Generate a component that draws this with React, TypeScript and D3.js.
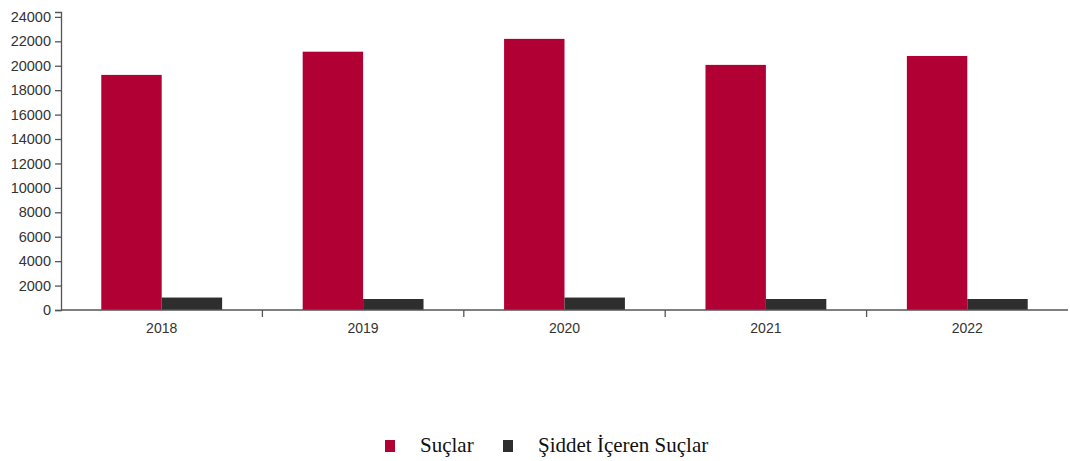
import React, { useRef, useEffect } from 'react'
import * as d3 from 'd3'

// Yearly totals
const years = ['2018', '2019', '2020', '2021', '2022']
const crimes = [19250, 21150, 22200, 20070, 20800]
const violentCrimes = [1020, 900, 1020, 900, 900]
const seriesNames = ['Suçlar', 'Şiddet İçeren Suçlar']
const seriesColors = ['#b00034', '#2e2e2e']
const yTicks = [0, 2000, 4000, 6000, 8000, 10000, 12000, 14000, 16000, 18000, 20000, 22000, 24000]

const App: React.FC = () => {
  const svgRef = useRef<SVGSVGElement | null>(null)

  useEffect(() => {
    const svg = d3.select(svgRef.current)
    svg.selectAll('*').remove()

    const width = 1070
    const height = 461
    const margin = { top: 12, right: 2, bottom: 151, left: 61 }
    svg.attr('width', width).attr('height', height)

    const values = [crimes, violentCrimes]
    const axisColor = '#555'
    const labelFont = 'Liberation Sans, Arial, sans-serif'

    // outer band per year, inner band per series
    const x0 = d3
      .scaleBand()
      .domain(years)
      .range([margin.left, width - margin.right])
      .padding(0)

    const bw = x0.bandwidth()
    const x1 = d3
      .scaleBand()
      .domain(seriesNames)
      .range([bw * 0.2, bw * 0.8])
      .padding(0)

    const y = d3
      .scaleLinear()
      .domain([0, 24400])
      .range([height - margin.bottom, margin.top])

    // bars
    const groups = svg
      .append('g')
      .selectAll('g')
      .data(years)
      .enter()
      .append('g')
      .attr('transform', (d) => `translate(${x0(d)},0)`)

    groups
      .selectAll('rect')
      .data((_, i) => seriesNames.map((s, k) => ({ s, k, v: values[k][i] })))
      .enter()
      .append('rect')
      .attr('x', (d) => x1(d.s)!)
      .attr('width', x1.bandwidth())
      .attr('y', (d) => y(d.v))
      .attr('height', (d) => y(0) - y(d.v))
      .attr('fill', (d) => seriesColors[d.k])

    // y axis
    const yAxis = svg
      .append('g')
      .attr('transform', `translate(${margin.left},0)`)
      .call(d3.axisLeft(y).tickValues(yTicks).tickSize(6).tickSizeOuter(6).tickFormat((d) => String(d)))
    yAxis.select('.domain').attr('stroke', axisColor).attr('stroke-width', 1.3)
    yAxis.selectAll('.tick line').attr('stroke', axisColor).attr('stroke-width', 1.3)
    yAxis
      .selectAll('.tick text')
      .attr('fill', '#333')
      .attr('font-family', labelFont)
      .attr('font-size', 14.5)
      .attr('x', -10)

    // x axis: ticks on the band boundaries
    const xAxis = svg
      .append('g')
      .attr('transform', `translate(0,${y(0)})`)
    xAxis
      .append('line')
      .attr('x1', margin.left)
      .attr('x2', width - margin.right)
      .attr('stroke', axisColor)
      .attr('stroke-width', 1.3)
    xAxis
      .selectAll('line.tk')
      .data(years.slice(1))
      .enter()
      .append('line')
      .attr('class', 'tk')
      .attr('x1', (d) => x0(d)!)
      .attr('x2', (d) => x0(d)!)
      .attr('y1', 0)
      .attr('y2', 7)
      .attr('stroke', axisColor)
      .attr('stroke-width', 1.3)
    xAxis
      .selectAll('text')
      .data(years)
      .enter()
      .append('text')
      .attr('x', (d) => x0(d)! + bw / 2)
      .attr('y', 23)
      .attr('text-anchor', 'middle')
      .attr('fill', '#333')
      .attr('font-family', labelFont)
      .attr('font-size', 14)
      .text((d) => d)

    // legend
    const legendX = [385, 503]
    const legend = svg
      .append('g')
      .selectAll('g')
      .data(seriesNames)
      .enter()
      .append('g')
      .attr('transform', (_, i) => `translate(${legendX[i]},440)`)
    legend
      .append('rect')
      .attr('width', 10)
      .attr('height', 12)
      .attr('fill', (_, i) => seriesColors[i])
    legend
      .append('text')
      .attr('x', 35)
      .attr('y', 12)
      .attr('font-family', 'Liberation Serif, Times New Roman, serif')
      .attr('font-size', 21)
      .attr('fill', '#111')
      .text((d) => d)
  }, [])

  return <svg ref={svgRef} style={{ position: 'absolute', left: 0, top: 0 }}></svg>
}

export default App
